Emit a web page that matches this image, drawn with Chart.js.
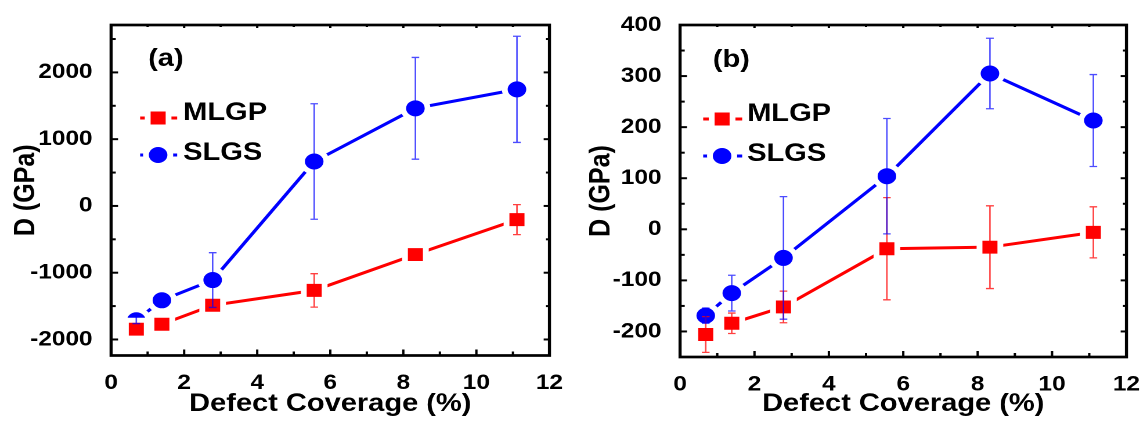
<!DOCTYPE html>
<html>
<head>
<meta charset="utf-8">
<script src="https://cdn.jsdelivr.net/npm/chart.js@4.4.0/dist/chart.umd.min.js"></script>
<style>
  html, body { margin: 0; padding: 0; background: #fff; }
  #wrap { position: relative; width: 1147px; height: 424px; }
  canvas { position: absolute; top: 0; }
</style>
</head>
<body>
<div id="wrap">
  <!-- the original figure is stretched sideways, so the canvases are too -->
  <canvas id="chartA" width="491" height="424" style="left:0;width:570px;height:424px"></canvas>
  <canvas id="chartB" width="497" height="424" style="left:570px;width:577px;height:424px"></canvas>
</div>
<script>
// Defect coverage (%), same for both panels
const coverage = [0.69, 1.39, 2.78, 5.56, 8.33, 11.11];

// Panel (a)
const mlgpA = [-1846, -1772, -1488, -1265, -728, -205];
const mlgpErrA = [60, 40, 40, 250, 60, 225];
const slgsA = [-1712, -1413, -1110, 666, 1462, 1746];
const slgsErrA = [50, 40, 410, 865, 762, 795];

// Panel (b)
const mlgpB = [-206, -184, -152, -38, -35, -6];
const mlgpErrB = [35, 20, 31, 100, 81, 50];
const slgsB = [-169, -125, -56, 104, 305, 213];
const slgsErrB = [15, 35, 120, 113, 69, 90];

const xTicks = [0, 2, 4, 6, 8, 10, 12];
const yTicksA = [-2000, -1000, 0, 1000, 2000];
const yTicksB = [-200, -100, 0, 100, 200, 300, 400];

const FONT = '"Liberation Sans", Arial, sans-serif';
const RED = '#ff0000';
const BLUE = '#0000ff';

function drawMarker(ctx, style, x, y, r, color) {
    ctx.beginPath();
    if (style === 'rect') {
        const s = Math.SQRT1_2 * r;
        ctx.rect(x - s, y - s, 2 * s, 2 * s);
    } else {
        ctx.arc(x, y, r, 0, Math.PI * 2);
    }
    ctx.fillStyle = color;
    ctx.fill();
    ctx.lineWidth = 5;
    ctx.strokeStyle = '#fff';
    ctx.stroke();
}

// inward ticks along one scale, major at the tick values and minor halfway
function drawTicks(ctx, scale, ticks, from, dir, horizontal, bigLen, smallLen) {
    const step = ticks[1] - ticks[0];
    for (let v = ticks[0] - step / 2; v <= scale.max + 1e-9; v += step / 2) {
        if (v < scale.min - 1e-9) continue;
        const major = ticks.some(t => Math.abs(t - v) < 1e-9);
        const len = major ? bigLen : smallLen;
        const p = scale.getPixelForValue(v);
        ctx.beginPath();
        if (horizontal) {
            ctx.moveTo(p, from);
            ctx.lineTo(p, from + dir * len);
        } else {
            ctx.moveTo(from, p);
            ctx.lineTo(from + dir * len, p);
        }
        ctx.stroke();
    }
}

const framePlugin = {
    id: 'frame',
    afterDatasetsDraw(chart) {
        const ctx = chart.ctx;
        const a = chart.chartArea;
        const sx = chart.scales.x;
        const sy = chart.scales.y;
        const o = chart.options.plugins.frame;

        // error bars
        chart.data.datasets.forEach(ds => {
            ctx.save();
            ctx.strokeStyle = ds.errColor;
            ctx.lineWidth = 1.3;
            ds.data.forEach((p, i) => {
                const px = sx.getPixelForValue(p.x);
                const top = sy.getPixelForValue(p.y + ds.err[i]);
                const bot = sy.getPixelForValue(p.y - ds.err[i]);
                ctx.beginPath();
                ctx.moveTo(px, top); ctx.lineTo(px, bot);
                ctx.moveTo(px - 3.3, top); ctx.lineTo(px + 3.3, top);
                ctx.moveTo(px - 3.3, bot); ctx.lineTo(px + 3.3, bot);
                ctx.stroke();
            });
            ctx.restore();
        });

        // box and ticks
        ctx.save();
        ctx.strokeStyle = '#000';
        ctx.lineWidth = 2.7;
        ctx.strokeRect(a.left, a.top, a.right - a.left, a.bottom - a.top);
        ctx.lineWidth = 2;
        drawTicks(ctx, sx, xTicks, a.bottom, -1, true, 6, 4);
        drawTicks(ctx, sx, xTicks, a.top, 1, true, 3, 2);
        drawTicks(ctx, sy, o.yTicks, a.left, 1, false, 6, 4);
        drawTicks(ctx, sy, o.yTicks, a.right, -1, false, 5, 3);
        ctx.restore();

        // legend
        ctx.save();
        chart.data.datasets.forEach((ds, i) => {
            const row = o.legend.rows[i];
            ctx.strokeStyle = ds.borderColor;
            ctx.lineWidth = 3;
            ctx.beginPath();
            ctx.moveTo(o.legend.x1, row.marker);
            ctx.lineTo(o.legend.x2, row.marker);
            ctx.stroke();
            drawMarker(ctx, ds.pointStyle, o.legend.xm, row.marker, ds.pointRadius, ds.borderColor);
            ctx.fillStyle = '#000';
            ctx.font = 'bold 25px ' + FONT;
            ctx.textBaseline = 'alphabetic';
            ctx.fillText(ds.label, o.legend.xt, row.text);
        });

        // panel label
        ctx.font = 'bold 25px ' + FONT;
        ctx.textBaseline = 'middle';
        ctx.fillStyle = '#000';
        ctx.fillText(o.label.text, o.label.x, o.label.y);
        ctx.restore();
    }
};

function series(label, ys, errs, color, errColor, style, r) {
    return {
        label: label,
        data: coverage.map((x, i) => ({ x: x, y: ys[i] })),
        err: errs,
        errColor: errColor,
        borderColor: color,
        backgroundColor: color,
        borderWidth: 3,
        pointStyle: style,
        pointRadius: r,
        pointHoverRadius: r,
        pointBackgroundColor: color,
        pointBorderColor: '#fff',
        pointBorderWidth: 5,
        tension: 0
    };
}

function makeChart(id, mlgp, mlgpErr, slgs, slgsErr, yMin, yMax, yTicks, p) {
    const ctx = document.getElementById(id).getContext('2d');
    const w = ctx.canvas.width;
    return new Chart(ctx, {
        type: 'line',
        data: {
            datasets: [
                series('MLGP', mlgp, mlgpErr, RED, 'rgba(255, 0, 0, 0.75)', 'rect', 12.7),
                series('SLGS', slgs, slgsErr, BLUE, 'rgba(0, 0, 255, 0.7)', 'circle', 10.5)
            ]
        },
        options: {
            responsive: false,
            animation: false,
            devicePixelRatio: 2,
            events: [],
            layout: { padding: { top: 25, right: w - p.right, left: 0, bottom: 0 } },
            plugins: {
                legend: { display: false },
                tooltip: { enabled: false },
                frame: { yTicks: yTicks, legend: p.legend, label: p.label }
            },
            scales: {
                x: {
                    type: 'linear',
                    min: 0,
                    max: 12,
                    grid: { display: false },
                    border: { display: false },
                    afterBuildTicks: s => { s.ticks = xTicks.map(v => ({ value: v })); },
                    afterFit: s => {
                        s.height = 424 - p.bottom;
                        s.paddingLeft = 0;
                        s.paddingRight = 0;
                    },
                    ticks: {
                        color: '#000',
                        padding: 7,
                        maxRotation: 0,
                        callback: v => String(v),
                        font: { family: FONT, size: 21, weight: 'bold' }
                    },
                    title: {
                        display: true,
                        text: 'Defect Coverage (%)',
                        color: '#000',
                        padding: { top: 0, bottom: 5 },
                        font: { family: FONT, size: 25, weight: 'bold' }
                    }
                },
                y: {
                    min: yMin,
                    max: yMax,
                    grid: { display: false },
                    border: { display: false },
                    afterBuildTicks: s => { s.ticks = yTicks.map(v => ({ value: v })); },
                    afterFit: s => {
                        s.width = p.left;
                        s.paddingTop = 0;
                        s.paddingBottom = 0;
                    },
                    ticks: {
                        color: '#000',
                        padding: 8,
                        callback: v => String(v),
                        font: { family: FONT, size: 21, weight: 'bold' }
                    },
                    title: {
                        display: true,
                        text: 'D (GPa)',
                        color: '#000',
                        padding: { top: p.titlePad, bottom: 0 },
                        font: { family: FONT, size: 25, weight: 'bold' }
                    }
                }
            }
        },
        plugins: [framePlugin]
    });
}

const chartA = makeChart('chartA', mlgpA, mlgpErrA, slgsA, slgsErrA, -2240, 2710, yTicksA, {
    left: 95.7, right: 481.5, bottom: 355.5, titlePad: 7.4,
    legend: { x1: 120.7, x2: 152.6, xm: 136.2, xt: 157.8,
              rows: [{ marker: 118, text: 120 }, { marker: 155, text: 160 }] },
    label: { text: '(a)', x: 127.6, y: 59 }
});

const chartB = makeChart('chartB', mlgpB, mlgpErrB, slgsB, slgsErrB, -250, 400, yTicksB, {
    left: 94.8, right: 485.3, bottom: 357, titlePad: 12.2,
    legend: { x1: 114.7, x2: 148.3, xm: 131, xt: 152.6,
              rows: [{ marker: 119, text: 121 }, { marker: 156, text: 161 }] },
    label: { text: '(b)', x: 123, y: 60 }
});
</script>
</body>
</html>
